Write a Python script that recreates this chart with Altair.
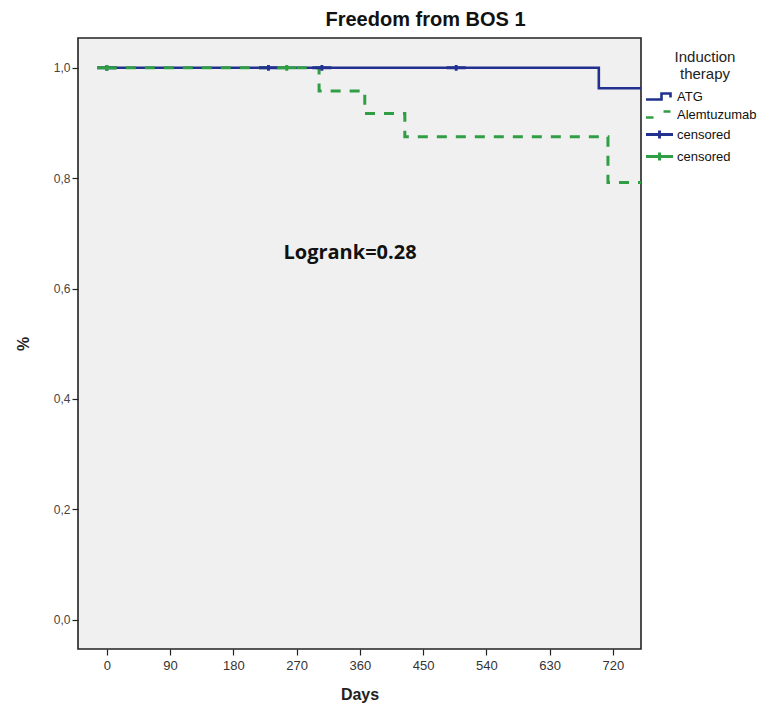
import altair as alt
import pandas as pd

# ---- data ----
atg_days = [0, 700, 760]
atg_surv = [1.0, 0.963, 0.963]
alem_days = [0, 302, 367, 424, 713, 760]
alem_surv = [1.0, 0.958, 0.917, 0.875, 0.792, 0.792]
cens_atg_days = [0, 230, 306, 497]
cens_atg_surv = [1.0, 1.0, 1.0, 1.0]
cens_alem_days = [0, 256]
cens_alem_surv = [1.0, 1.0]
x_ticks = [0, 90, 180, 270, 360, 450, 540, 630, 720]
y_ticks = [0.0, 0.2, 0.4, 0.6, 0.8, 1.0]
legend_keys = ["ATG", "Alemtuzumab", "censored", "censored "]
annot_x = [346]
annot_y = [0.665]
annot_text = ["Logrank=0.28"]

BLUE = "#22308f"
GREEN = "#2f9e44"
NARROW = "Liberation Sans Narrow, Arial Narrow, Liberation Sans, Arial, sans-serif"
SANS = "Liberation Sans, Arial, sans-serif"

atg = pd.DataFrame({"days": atg_days, "surv": atg_surv})
alem = pd.DataFrame({"days": alem_days, "surv": alem_surv})
cens = pd.DataFrame({
    "days": cens_atg_days + cens_alem_days,
    "surv": cens_atg_surv + cens_alem_surv,
    "series": ["censored"] * len(cens_atg_days) + ["censored "] * len(cens_alem_days),
})
annot = pd.DataFrame({"days": annot_x, "surv": annot_y, "label": annot_text})

xscale = alt.Scale(domain=[-41, 760], nice=False, zero=False)
yscale = alt.Scale(domain=[-0.053, 1.054], nice=False, zero=False)

xenc = alt.X("days:Q", scale=xscale,
             axis=alt.Axis(title="Days", values=x_ticks, grid=False, domain=False,
                           tickSize=6, tickColor="#222", tickWidth=1.2,
                           labelFont=NARROW, labelFontSize=13, labelColor="#333",
                           labelPadding=4, titleFont=SANS, titleFontSize=16,
                           titleFontWeight="bold", titleColor="#222", titlePadding=14))
yenc = alt.Y("surv:Q", scale=yscale,
             axis=alt.Axis(title="%", values=y_ticks, grid=False, domain=False,
                           tickSize=6, tickColor="#222", tickWidth=1.2,
                           labelExpr="replace(format(datum.value, '.1f'), '.', ',')",
                           labelFont=SANS, labelFontSize=12, labelColor="#444",
                           labelPadding=2, titleFont=SANS, titleFontSize=16,
                           titleFontWeight="bold", titleColor="#222", titlePadding=22))

line_atg = alt.Chart(atg).mark_line(interpolate="step-after", clip=True, strokeWidth=2.6,
                                    color=BLUE).encode(x=xenc, y=yenc)
line_alem = alt.Chart(alem).mark_line(interpolate="step-after", clip=True, strokeWidth=3,
                                      color=GREEN, strokeDash=[10, 9]).encode(x="days:Q", y="surv:Q")

# legend symbol paths (unit = half of sqrt(symbolSize))
path_atg = "M-2.7,0.6H0.4V-0.6H2.2V0.2"
path_alem = "M-2.7,0.6H-1.2M0.8,-0.6H2.2"
path_cross = "M-2.7,0H2.7M0,-0.8V0.8"

leg = alt.Legend(title=["Induction", "therapy"], orient="none", legendX=575, legendY=12,
                 titleFont=NARROW, titleFontSize=15, titleFontWeight="normal",
                 titleColor="#222", titleAlign="center", titleAnchor="middle",
                 titlePadding=8, labelFont=NARROW, labelFontSize=13, labelColor="#111",
                 labelOffset=11, rowPadding=1, symbolSize=100,
                 symbolOpacity=1, symbolFillColor="transparent")

points = alt.Chart(cens).mark_point(filled=False, size=50, opacity=1, clip=True).encode(
    x="days:Q", y="surv:Q",
    color=alt.Color("series:N", scale=alt.Scale(domain=legend_keys,
                                                range=[BLUE, GREEN, BLUE, GREEN]), legend=leg),
    shape=alt.Shape("series:N", scale=alt.Scale(domain=legend_keys,
                                                range=[path_atg, path_alem, path_cross, path_cross]),
                    legend=leg),
    strokeWidth=alt.StrokeWidth("series:N", scale=alt.Scale(domain=legend_keys,
                                                            range=[2.6, 3, 1.4, 1.4]), legend=leg),
)

text = alt.Chart(annot).mark_text(font="Open Sans, Lato, sans-serif", fontSize=20,
                                  fontWeight="bold", color="#111").encode(
    x="days:Q", y="surv:Q", text="label:N")

chart = alt.layer(line_atg, line_alem, points, text).properties(
    width=563, height=611,
    title=alt.TitleParams("Freedom from BOS 1", font=NARROW, fontSize=20, fontWeight="bold",
                          color="#111", anchor="middle", dx=66, offset=8),
    autosize=alt.AutoSizeParams(type="none"),
    padding={"left": 78, "top": 38, "right": 137, "bottom": 63},
    background="white",
).configure_view(fill="#f0f0f0", stroke="#222", strokeWidth=1.6)

chart.save("out.html", embed_options={"renderer": "svg", "actions": False})
